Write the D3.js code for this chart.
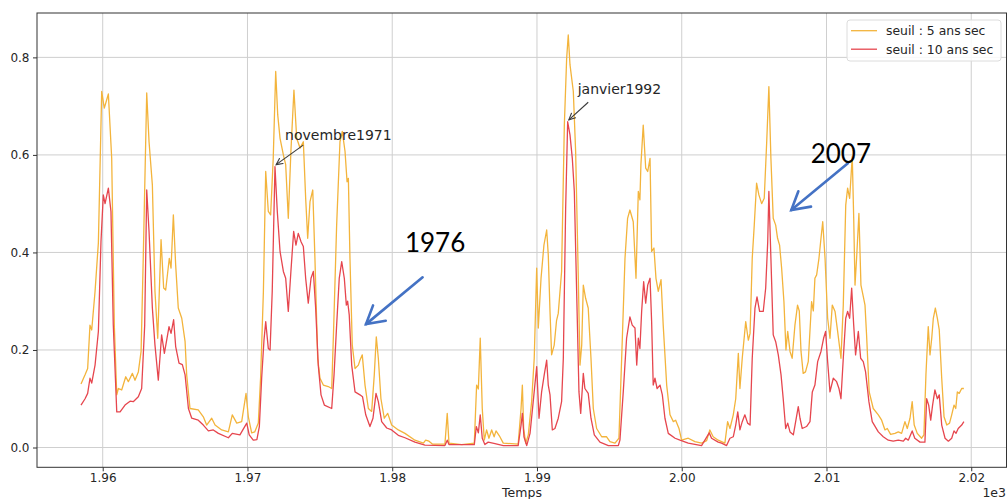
<!DOCTYPE html>
<html><head><meta charset="utf-8">
<script src="https://cdn.jsdelivr.net/npm/d3@7"></script>
<style>
body{margin:0;background:#fff;}
svg{display:block;}
text{font-family:"DejaVu Sans",sans-serif;}
</style>
</head><body>
<svg id="chart" width="1008" height="499"></svg>
<script>
// ---------- DATA ----------
const temps5 = [
1958.5,1958.78,1958.96,1959.12,1959.24,1959.47,1959.7,1959.93,1960.11,1960.39,1960.62,1960.8,1960.97,1961.08,1961.31,1961.59,1961.77,1962.05,1962.23,1962.46,1962.65,1962.8,1963.04,1963.2,1963.43,1963.61,1963.8,1964.03,1964.21,1964.35,1964.6,1964.72,1964.88,1965.04,1965.22,1965.46,1965.69,1965.8,
1966.03,1966.6,1966.95,1967.18,1967.53,1967.76,1968.22,1968.68,1968.95,1969.26,1969.6,1969.9,1970.06,1970.29,1970.5,1970.75,1970.91,1971.1,1971.26,1971.44,1971.6,1971.78,1971.95,1972.09,1972.25,1972.48,1972.64,1972.82,1973.0,1973.21,1973.4,1973.63,1973.86,1974.02,1974.16,1974.32,1974.51,1974.66,1974.85,1975.01,1975.24,1975.58,1975.82,
1975.96,1976.16,1976.39,1976.55,1976.74,1976.88,1976.97,1977.08,1977.24,1977.43,1977.66,1977.77,1977.93,1978.12,1978.35,1978.58,1978.76,1978.9,1979.04,1979.22,1979.45,1979.69,1979.96,1980.42,1980.88,1981.57,1982.15,1982.31,1982.54,1982.77,1983.64,1983.8,1983.92,1984.8,1985.67,1985.83,1985.95,1986.08,1986.22,1986.36,1986.52,1986.68,1986.87,1987.04,1987.17,1987.4,1987.67,1988.7,1988.9,1988.99,1989.08,1989.22,1989.4,1989.63,1989.81,
1989.98,1990.09,1990.28,1990.48,1990.67,1990.78,1990.9,1991.01,1991.19,1991.35,1991.47,1991.7,1991.89,1992.05,1992.16,1992.28,1992.51,1992.67,1992.85,1992.97,1993.09,1993.2,1993.36,1993.54,1993.73,1993.89,1994.12,1994.47,1994.81,1995.04,1995.39,1995.66,1995.85,1996.08,1996.26,1996.42,1996.65,1996.84,1997.0,1997.11,1997.18,1997.34,1997.51,1997.65,1997.81,1997.92,1998.08,1998.22,1998.38,1998.57,1998.72,1998.96,1999.19,1999.42,1999.58,1999.81,1999.99,2000.45,2000.91,2001.37,2001.72,2001.94,2002.17,2002.52,
2002.98,2003.17,2003.33,2003.56,2003.73,2003.91,2004.02,2004.18,2004.42,2004.6,2004.72,2004.87,2005.01,2005.17,2005.33,2005.52,2005.7,2005.87,2006.02,2006.16,2006.32,2006.49,2006.62,2006.76,2006.9,2007.06,2007.2,2007.32,2007.48,2007.63,2007.82,2008.0,2008.12,2008.24,2008.39,2008.55,2008.74,2008.97,2009.09,2009.2,2009.32,2009.48,2009.62,2009.74,2009.9,2010.08,2010.24,2010.4,2010.59,2010.77,2011.0,2011.16,2011.33,2011.46,2011.6,2011.78,2011.88,2011.97,2012.08,2012.24,2012.38,2012.54,2012.66,2012.77,2012.95,2013.23,2013.58,2013.81,2014.04,2014.2,2014.43,2014.73,2014.96,2015.19,2015.42,2015.58,2015.77,2015.92,2016.06,2016.27,2016.57,2016.73,2016.87,2017.03,2017.15,2017.27,2017.38,2017.52,2017.66,2017.79,2017.96,2018.12,2018.31,2018.5,2018.65,2018.81,2018.93,2019.04,2019.17,2019.34,2019.49
];
const seuil5 = [
.130,.149,.162,.251,.241,.32,.42,.73,.696,.725,.593,.251,.108,.121,.118,.145,.135,.152,.138,.155,.197,.388,.727,.627,.538,.32,.224,.426,.327,.323,.388,.368,.477,.374,.286,.265,.217,.149,
.080,.077,.063,.046,.060,.046,.036,.032,.067,.050,.053,.111,.063,.030,.032,.050,.145,.32,.566,.484,.477,.593,.771,.682,.634,.60,.58,.47,.607,.733,.634,.614,.627,.511,.429,.504,.528,.388,.183,.142,.128,.125,.121,
.251,.456,.627,.648,.607,.545,.552,.388,.21,.162,.169,.179,.19,.128,.08,.074,.149,.227,.183,.10,.06,.070,.046,.036,.029,.015,.009,.015,.013,.007,.007,.07,.009,.006,.009,.128,.12,.224,.08,.015,.036,.019,.036,.022,.034,.024,.009,.007,.08,.128,.039,.009,.026,.094,.183,
.368,.245,.347,.415,.446,.395,.279,.19,.21,.26,.275,.361,.661,.798,.846,.785,.73,.607,.354,.169,.21,.333,.306,.286,.183,.08,.039,.022,.022,.012,.009,.019,.183,.388,.47,.487,.463,.347,.525,.508,.58,.661,.573,.566,.593,.402,.409,.347,.32,.344,.251,.128,.067,.053,.056,.039,.015,.019,.012,.009,.014,.036,.022,.015,
.009,.053,.039,.067,.10,.193,.121,.183,.258,.22,.234,.388,.456,.542,.518,.50,.511,.627,.74,.593,.47,.456,.429,.415,.368,.299,.2,.238,.197,.183,.251,.292,.28,.197,.152,.155,.176,.299,.28,.347,.354,.388,.429,.463,.388,.265,.224,.292,.279,.238,.183,.292,.497,.532,.511,.597,.47,.333,.388,.48,.333,.31,.292,.23,.114,.08,.067,.056,.036,.039,.027,.029,.032,.029,.053,.039,.06,.094,.046,.029,.019,.026,.149,.248,.19,.224,.265,.286,.265,.241,.142,.063,.046,.05,.067,.087,.08,.114,.111,.121,.121
];
const temps10 = [
1958.5,1958.78,1958.96,1959.12,1959.24,1959.47,1959.7,1959.88,1960.04,1960.16,1960.39,1960.57,1960.73,1960.97,1961.2,1961.54,1961.89,1962.11,1962.46,1962.69,1962.9,1963.04,1963.2,1963.43,1963.61,1963.84,1964.07,1964.26,1964.58,1964.72,1964.9,1965.04,1965.27,1965.5,1965.69,1965.92,
1966.15,1966.6,1966.95,1967.3,1967.64,1967.99,1968.68,1968.95,1969.48,1969.95,1970.12,1970.4,1970.65,1970.82,1970.98,1971.14,1971.26,1971.44,1971.56,1971.71,1971.9,1972.06,1972.25,1972.48,1972.64,1972.82,1973.0,1973.19,1973.35,1973.51,1973.7,1973.86,1974.02,1974.2,1974.39,1974.55,1974.71,1974.89,1975.08,1975.31,1975.82,
1975.98,1976.16,1976.34,1976.51,1976.69,1976.83,1976.92,1977.03,1977.2,1977.43,1977.77,1977.95,1978.17,1978.46,1978.67,1978.88,1979.04,1979.27,1979.62,1979.96,1980.42,1980.88,1981.57,1982.26,1983.64,1983.8,1983.92,1985.67,1985.81,1985.95,1986.08,1986.22,1986.4,1986.63,1987.1,1987.67,1988.7,1988.9,1988.99,1989.1,1989.29,1989.52,1989.74,
1989.98,1990.14,1990.32,1990.5,1990.67,1990.78,1990.9,1991.06,1991.24,1991.47,1991.7,1991.82,1991.98,1992.12,1992.28,1992.44,1992.58,1992.74,1992.9,1993.02,1993.2,1993.31,1993.54,1993.73,1993.96,1994.35,1994.93,1995.62,1995.73,1995.96,1996.19,1996.42,1996.58,1996.77,1996.89,1997.0,1997.11,1997.23,1997.37,1997.51,1997.65,1997.81,1997.92,1998.03,1998.15,1998.3,1998.5,1998.66,1998.84,1999.07,1999.54,1999.88,2000.45,2001.37,2001.9,2002.06,2002.52,
2002.75,2003.1,2003.33,2003.56,2003.73,2003.87,2004.02,2004.18,2004.36,2004.55,2004.72,2004.87,2005.06,2005.2,2005.38,2005.63,2005.8,2005.94,2006.02,2006.16,2006.32,2006.49,2006.67,2006.86,2007.01,2007.18,2007.32,2007.48,2007.71,2007.87,2008.05,2008.17,2008.32,2008.62,2008.86,2009.02,2009.2,2009.39,2009.62,2009.8,2009.94,2010.08,2010.24,2010.47,2010.7,2010.86,2011.0,2011.16,2011.33,2011.46,2011.6,2011.74,2011.88,2012.01,2012.2,2012.36,2012.54,2012.7,2012.93,2013.16,2013.58,2013.92,2014.27,2014.61,2014.96,2015.31,2015.47,2015.65,2015.92,2016.1,2016.46,2016.8,2016.92,2017.06,2017.2,2017.33,2017.49,2017.66,2017.79,2017.96,2018.19,2018.42,2018.65,2018.81,2018.95,2019.1,2019.34,2019.49
];
const seuil10 = [
.087,.10,.111,.142,.132,.169,.238,.422,.518,.50,.532,.484,.251,.073,.073,.087,.095,.094,.104,.121,.251,.528,.443,.286,.21,.138,.231,.193,.248,.234,.262,.207,.173,.17,.149,.080,
.060,.056,.046,.034,.036,.029,.020,.029,.026,.05,.026,.015,.016,.043,.142,.22,.258,.203,.20,.32,.576,.484,.402,.361,.347,.279,.361,.443,.415,.439,.422,.412,.347,.296,.347,.361,.286,.169,.108,.087,.08,
.149,.251,.347,.381,.347,.292,.30,.272,.169,.114,.108,.104,.067,.043,.06,.111,.094,.053,.040,.036,.025,.02,.011,.005,.004,.015,.006,.006,.043,.03,.067,.019,.006,.011,.008,.004,.004,.046,.07,.022,.004,.029,.094,
.166,.06,.114,.149,.179,.128,.108,.036,.039,.06,.094,.183,.49,.668,.641,.593,.525,.32,.114,.07,.152,.121,.111,.06,.026,.011,.004,.004,.015,.114,.224,.268,.251,.245,.169,.224,.203,.279,.34,.296,.333,.347,.258,.128,.142,.121,.128,.108,.06,.029,.019,.015,.009,.004,.03,.019,.011,
.009,.004,.019,.022,.046,.073,.036,.053,.067,.05,.046,.183,.286,.309,.279,.279,.327,.422,.525,.388,.231,.217,.19,.149,.10,.039,.05,.032,.026,.053,.084,.06,.039,.043,.053,.114,.128,.176,.197,.224,.238,.176,.114,.142,.135,.121,.10,.183,.265,.279,.265,.327,.251,.19,.238,.183,.176,.155,.094,.053,.032,.022,.015,.013,.015,.013,.019,.015,.034,.019,.011,.011,.10,.087,.056,.087,.118,.10,.108,.046,.019,.013,.019,.034,.029,.039,.046,.053
];
const seriesNames = ["seuil : 5 ans sec", "seuil : 10 ans sec"];
const xTickValues = [1960, 1970, 1980, 1990, 2000, 2010, 2020];
const yTickValues = [0, 0.2, 0.4, 0.6, 0.8];
const xLabel = "Temps";
const xOffsetLabel = "1e3";
const annotations = [
  {label: "novembre1971", at: [1971.98, 0.58], text: [1972.6, 0.631], from: [1973.85, 0.62]},
  {label: "janvier1992",  at: [1992.2, 0.672], text: [1992.81, 0.725], from: [1993.54, 0.708]}
];
const callouts = [
  {label: "1976", text: [1980.88, 0.401], from: [1982.1, 0.349], to: [1978.19, 0.253]},
  {label: "2007", text: [2008.91, 0.584], from: [2011.48, 0.583], to: [2007.57, 0.487]}
];

if (temps5.length !== seuil5.length || temps10.length !== seuil10.length) console.error("length mismatch");

// ---------- LAYOUT ----------
const W = 1008, H = 499;
const M = {left: 37, top: 13, right: 1, bottom: 31.7};
const colors = ["#F3B43C", "#E6464E"];

const svg = d3.select("#chart");
const x = d3.scaleLinear().domain([1955.46, 2022.47]).range([M.left, W - M.right]);
const y = d3.scaleLinear().domain([-0.0406, 0.891]).range([H - M.bottom, M.top]);

// grid
const grid = svg.append("g");
grid.selectAll(".vg").data(xTickValues).join("line")
  .attr("x1", d => x(d)).attr("x2", d => x(d))
  .attr("y1", M.top).attr("y2", H - M.bottom)
  .attr("stroke", "#cfcfcf").attr("stroke-width", 1);
grid.selectAll(".hg").data(yTickValues).join("line")
  .attr("x1", M.left).attr("x2", W - M.right)
  .attr("y1", d => y(d)).attr("y2", d => y(d))
  .attr("stroke", "#cfcfcf").attr("stroke-width", 1);

// clip
svg.append("clipPath").attr("id", "clip").append("rect")
  .attr("x", M.left).attr("y", M.top)
  .attr("width", W - M.left - M.right).attr("height", H - M.top - M.bottom);

// lines
const line = d3.line().x(d => x(d[0])).y(d => y(d[1]));
const s5 = d3.zip(temps5, seuil5);
const s10 = d3.zip(temps10, seuil10);
const gl = svg.append("g").attr("clip-path", "url(#clip)");
gl.append("path").datum(s5).attr("d", line).attr("fill", "none")
  .attr("stroke", colors[0]).attr("stroke-width", 1.3).attr("stroke-linejoin", "round");
gl.append("path").datum(s10).attr("d", line).attr("fill", "none")
  .attr("stroke", colors[1]).attr("stroke-width", 1.3).attr("stroke-linejoin", "round");

// axes
const xAxis = d3.axisBottom(x).tickValues(xTickValues)
  .tickFormat(d => (d / 1000).toFixed(2)).tickSize(4).tickPadding(2.5);
const yAxis = d3.axisLeft(y).tickValues(yTickValues)
  .tickFormat(d => d.toFixed(1)).tickSize(4).tickPadding(3.5);
const gx = svg.append("g").attr("transform", `translate(0,${H - M.bottom})`).call(xAxis);
const gy = svg.append("g").attr("transform", `translate(${M.left},0)`).call(yAxis);
[gx, gy].forEach(g => {
  g.select(".domain").remove();
  g.selectAll(".tick line").attr("stroke", "#333");
  g.selectAll(".tick text").attr("fill", "#262626")
    .style("font-size", "12px").style("font-family", "'DejaVu Sans', sans-serif");
});

// frame
svg.append("rect").attr("x", M.left).attr("y", M.top)
  .attr("width", W - M.left - M.right - 0.5).attr("height", H - M.top - M.bottom)
  .attr("fill", "none").attr("stroke", "#333").attr("stroke-width", 1);

// axis label + offset
svg.append("text").attr("x", (M.left + W - M.right) / 2).attr("y", 497)
  .attr("text-anchor", "middle").attr("fill", "#262626").style("font-size", "12.5px").text(xLabel);
svg.append("text").attr("x", 1006).attr("y", 497)
  .attr("text-anchor", "end").attr("fill", "#262626").style("font-size", "12.5px").text(xOffsetLabel);

// legend
const lg = svg.append("g");
lg.append("rect").attr("x", 847).attr("y", 20).attr("width", 154).attr("height", 41)
  .attr("rx", 3).attr("fill", "#fff").attr("fill-opacity", 0.85)
  .attr("stroke", "#dcdcdc").attr("stroke-width", 1);
seriesNames.forEach((name, i) => {
  const ly = 30.7 + i * 18.5;
  lg.append("line").attr("x1", 851).attr("x2", 877).attr("y1", ly).attr("y2", ly)
    .attr("stroke", colors[i]).attr("stroke-width", 1.3);
  lg.append("text").attr("x", 886).attr("y", ly + 4.3).attr("fill", "#262626")
    .style("font-size", "12.4px").text(name);
});

// black annotations (matplotlib style)
function chevron(g, tipX, tipY, fromX, fromY, len, ang, color, width) {
  const a = Math.atan2(fromY - tipY, fromX - tipX);
  const p1 = [tipX + len * Math.cos(a + ang), tipY + len * Math.sin(a + ang)];
  const p2 = [tipX + len * Math.cos(a - ang), tipY + len * Math.sin(a - ang)];
  g.append("path").attr("d", `M${p1[0]},${p1[1]}L${tipX},${tipY}L${p2[0]},${p2[1]}`)
    .attr("fill", "none").attr("stroke", color).attr("stroke-width", width)
    .attr("stroke-linejoin", "miter").attr("stroke-linecap", "round");
}
const ga = svg.append("g");
annotations.forEach(a => {
  const tx = x(a.at[0]), ty = y(a.at[1]);
  const fx = x(a.from[0]), fy = y(a.from[1]);
  ga.append("line").attr("x1", fx).attr("y1", fy).attr("x2", tx).attr("y2", ty)
    .attr("stroke", "#3a3a3a").attr("stroke-width", 1.1);
  chevron(ga, tx, ty, fx, fy, 7, 0.45, "#3a3a3a", 1.1);
  ga.append("text").attr("x", x(a.text[0])).attr("y", y(a.text[1]))
    .attr("fill", "#262626").style("font-size", "14px").text(a.label);
});

// blue callouts
const gc = svg.append("g");
callouts.forEach(c => {
  const tx = x(c.to[0]), ty = y(c.to[1]);
  const fx = x(c.from[0]), fy = y(c.from[1]);
  gc.append("line").attr("x1", fx).attr("y1", fy).attr("x2", tx).attr("y2", ty)
    .attr("stroke", "#4472C4").attr("stroke-width", 2.6).attr("stroke-linecap", "round");
  chevron(gc, tx, ty, fx, fy, 20, 0.52, "#4472C4", 2.6);
  gc.append("text").attr("x", x(c.text[0])).attr("y", y(c.text[1]))
    .attr("fill", "#000").style("font-family", "Lato, 'Open Sans', sans-serif")
    .style("font-size", "26px").text(c.label);
});
</script>
</body></html>
